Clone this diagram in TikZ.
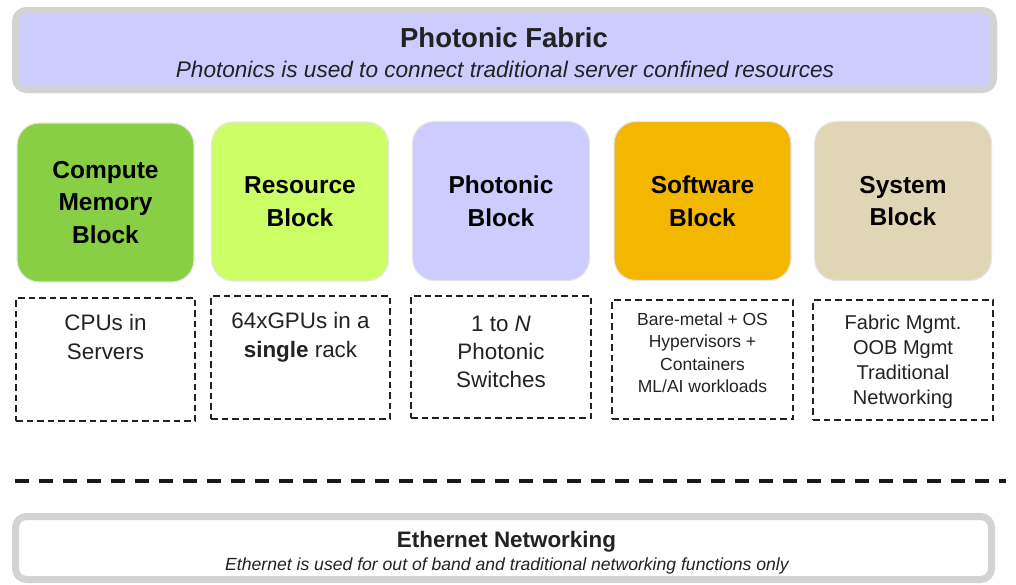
\documentclass[tikz,border=0pt]{standalone}
\usepackage{fontspec}
\setmainfont{Liberation Sans}
\usetikzlibrary{positioning}

\definecolor{frameGray}{HTML}{D3D3D3}
\definecolor{lavender}{HTML}{CCCCFF}
\definecolor{computeGreen}{HTML}{88CF45}
\definecolor{resourceLime}{HTML}{CCFF66}
\definecolor{softwareGold}{HTML}{F4B700}
\definecolor{systemTan}{HTML}{E0D5B5}
\definecolor{inkDark}{HTML}{222222}
\definecolor{blockEdge}{HTML}{E6E6E6}

\tikzset{
  bandbox/.style={draw=frameGray, line width=7pt, rounded corners=11pt,
    inner sep=0pt},
  blockbox/.style={draw=blockEdge, line width=1.2pt, rounded corners=22pt,
    minimum width=177pt, minimum height=159pt, inner sep=0pt,
    align=center, text=black,
    font=\fontsize{24.5}{32.5}\selectfont\bfseries},
  notebox/.style={draw=inkDark, line width=1.8pt, dash pattern=on 6.5pt off 4pt,
    inner sep=0pt},
  notetext/.style={anchor=north, inner sep=0pt, align=center, text=inkDark},
  bandtitle/.style={inner sep=0pt, anchor=base, text=inkDark},
  separator/.style={draw=black!90, line width=4pt, dash pattern=on 14pt off 10pt}
}

\begin{document}
\begin{tikzpicture}[x=1pt, y=-1pt]
\useasboundingbox (0,0) rectangle (1016,584);

% ---- photonic fabric band ----
\path[bandbox, fill=lavender] (15.5,10.5) rectangle (993.5,89.5);
\node[bandtitle, font=\fontsize{27.5}{30}\selectfont\bfseries] (fabricTitle)
  at (504,47) {Photonic Fabric};
\node[bandtitle, font=\fontsize{22.6}{26}\selectfont\itshape] (fabricSub)
  at (505,77) {Photonics is used to connect traditional server confined resources};

% ---- building blocks ----
\node[blockbox, fill=computeGreen] (compute) at (105.5,202.5) {Compute\\Memory\\Block};
\node[blockbox, fill=resourceLime] (resource) at (300,201.5) {Resource\\Block};
\node[blockbox, fill=lavender] (photonic) at (501,201) {Photonic\\Block};
\node[blockbox, fill=softwareGold] (software) at (702.5,201) {Software\\Block};
\node[blockbox, fill=systemTan] (system) at (903,201) {System\\Block};

% ---- dashed detail boxes ----
\node[notebox, minimum width=179pt, minimum height=123pt] (cpuBox) at (105.5,359.5) {};
\node[notebox, minimum width=179pt, minimum height=123pt] (gpuBox) at (300.5,357.5) {};
\node[notebox, minimum width=180pt, minimum height=122pt] (swiBox) at (501,357) {};
\node[notebox, minimum width=181pt, minimum height=119pt] (osBox) at (702.5,359.5) {};
\node[notebox, minimum width=180pt, minimum height=120pt] (mgmtBox) at (903,360) {};

\node[notetext, font=\fontsize{22.4}{28.5}\selectfont] (cpuTxt)
  at ([yshift=-17pt]cpuBox.north) {CPUs in\\Servers};
\node[notetext, font=\fontsize{22.4}{28.5}\selectfont] (gpuTxt)
  at ([yshift=-17pt]gpuBox.north) {64xGPUs in a\\\textbf{single} rack};
\node[notetext, font=\fontsize{22.4}{28}\selectfont] (swiTxt)
  at ([yshift=-21pt]swiBox.north) {1 to \textit{N}\\Photonic\\Switches};
\node[notetext, font=\fontsize{17.5}{22.4}\selectfont] (osTxt)
  at ([yshift=-13.5pt]osBox.north) {Bare-metal + OS\\Hypervisors +\\Containers\\ML/AI workloads};
\node[notetext, font=\fontsize{20}{25}\selectfont] (mgmtTxt)
  at ([yshift=-15.5pt]mgmtBox.north) {Fabric Mgmt.\\OOB Mgmt\\Traditional\\Networking};

% ---- separator ----
\coordinate (sepL) at (15,481);
\coordinate (sepR) at (1006,481);
\draw[separator] (sepL) -- (sepR);

% ---- ethernet band ----
\path[bandbox, fill=white] (15.5,516.5) rectangle (991.5,579.5);
\node[bandtitle, font=\fontsize{22.4}{26}\selectfont\bfseries] (ethTitle)
  at (506.5,547) {Ethernet Networking};
\node[bandtitle, font=\fontsize{17.6}{20}\selectfont\itshape] (ethSub)
  at (507,570) {Ethernet is used for out of band and traditional networking functions only};
\end{tikzpicture}
\end{document}
